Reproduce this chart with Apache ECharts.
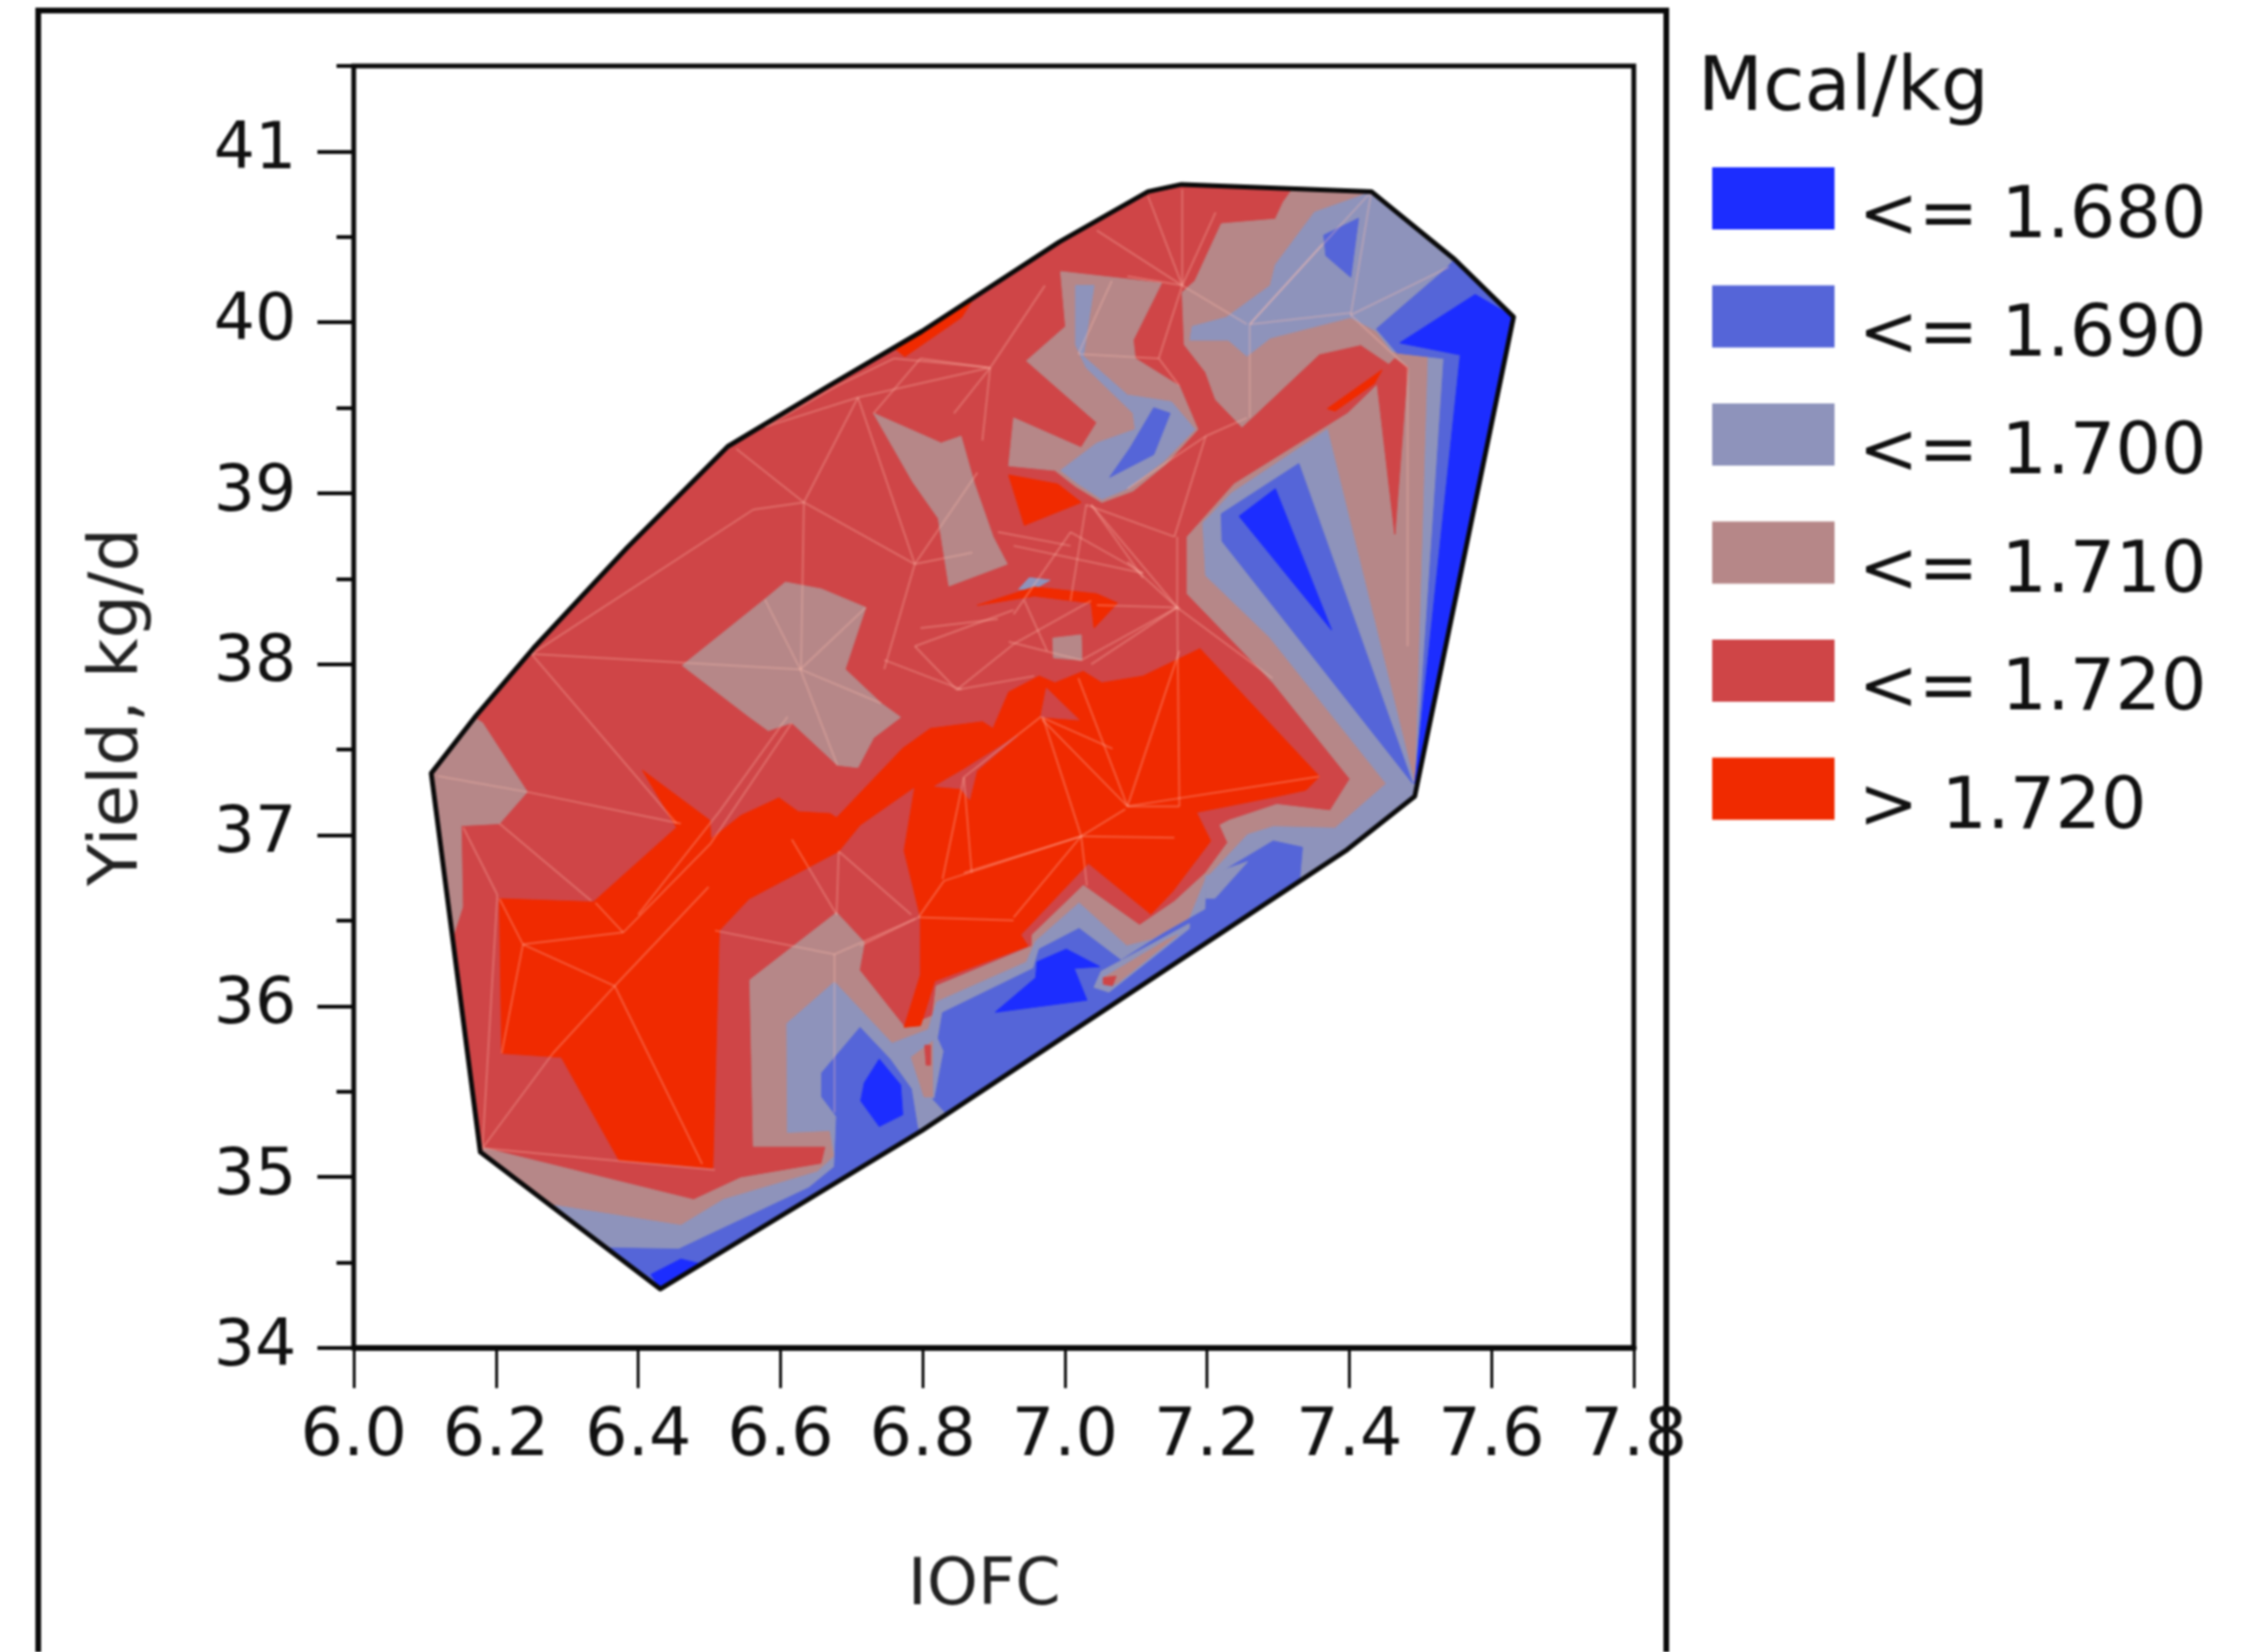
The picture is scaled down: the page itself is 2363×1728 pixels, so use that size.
<!DOCTYPE html>
<html>
<head>
<meta charset="utf-8">
<style>html,body{margin:0;padding:0;background:#fff}#c{width:2363px;height:1728px;filter:blur(0.8px)}</style>
<script src="https://cdn.jsdelivr.net/npm/echarts@6/dist/echarts.min.js"></script>
</head>
<body>
<div id="c"></div>
<script>
const yTicks = [34,35,36,37,38,39,40,41];
const legendTitle = 'Mcal/kg';
const levelNames = ['<= 1.680','<= 1.690','<= 1.700','<= 1.710','<= 1.720','> 1.720'];
const levelColors = ['#1c2dff','#5565d8','#8e93bb','#b68788','#cf4547','#f02a00'];

const hull = [[6.109,37.362],[6.178,35.146],[6.431,34.345],[6.799,35.272],[7.397,36.915],[7.492,37.227],[7.631,40.032],[7.548,40.369],[7.431,40.765],[7.164,40.807],[7.117,40.765],[6.992,40.470],[6.799,39.948],[6.668,39.628],[6.526,39.274],[6.385,38.684],[6.253,38.095],[6.172,37.699]];

const level1710 = [
 [[7.307,40.703],[7.322,40.791],[7.431,40.765],[7.548,40.369],[7.631,40.032],[7.492,37.227],[7.397,36.915],[6.799,35.272],[6.431,34.345],[6.178,35.146],[6.184,35.169],[6.478,34.867],[6.544,34.995],[6.658,35.076],[6.664,35.180],[6.562,35.180],[6.557,36.153],[6.679,36.547],[6.718,36.373],[6.711,36.211],[6.775,35.875],[6.814,35.944],[6.819,36.118],[6.954,36.352],[6.954,36.417],[7.026,36.706],[7.105,36.473],[7.154,36.612],[7.198,36.780],[7.229,36.957],[7.218,37.059],[7.231,37.087],[7.298,37.180],[7.373,37.143],[7.401,37.329],[7.293,37.890],[7.172,38.412],[7.172,38.746],[7.238,39.054],[7.398,39.468],[7.464,39.735],[7.416,39.869],[7.358,39.815],[7.249,39.388],[7.212,39.548],[7.198,39.708],[7.168,39.869],[7.165,40.176],[7.183,40.243],[7.220,40.577],[7.296,40.604]],
 [[6.994,40.297],[7.136,40.230],[7.096,39.896],[7.099,39.789],[7.161,39.628],[7.187,39.374],[7.143,39.174],[7.096,39.014],[7.052,38.947],[7.015,39.040],[6.986,39.134],[6.921,39.161],[6.928,39.441],[7.023,39.267],[7.045,39.414],[6.946,39.775],[7.001,39.976]],
 [[6.731,39.468],[6.826,39.294],[6.854,39.334],[6.873,39.054],[6.899,38.746],[6.919,38.586],[6.837,38.458],[6.822,38.853],[6.786,39.067]],
 [[6.462,37.993],[6.578,38.380],[6.607,38.480],[6.658,38.440],[6.720,38.332],[6.691,37.971],[6.742,37.771],[6.769,37.690],[6.731,37.570],[6.709,37.396],[6.680,37.410],[6.616,37.658],[6.583,37.612],[6.556,37.693]],
 [[6.983,38.153],[7.023,38.172],[7.024,38.024],[6.984,38.038]],
 [[6.109,37.362],[6.172,37.680],[6.181,37.658],[6.244,37.253],[6.205,37.068],[6.151,37.056],[6.153,36.580],[6.139,36.400]]
];

const level1700 = [
 [[7.431,40.765],[7.548,40.369],[7.631,40.032],[7.492,37.227],[7.397,36.915],[6.799,35.272],[6.431,34.345],[6.275,34.839],[6.460,34.717],[6.520,34.868],[6.652,35.030],[6.676,35.122],[6.670,35.273],[6.610,35.261],[6.609,35.898],[6.676,36.141],[6.757,35.782],[6.808,35.863],[6.820,36.025],[6.946,36.257],[6.959,36.380],[7.020,36.603],[7.087,36.352],[7.123,36.389],[7.175,36.510],[7.198,36.743],[7.257,37.003],[7.293,37.050],[7.380,37.041],[7.452,37.301],[7.288,38.158],[7.198,38.519],[7.194,38.826],[7.234,39.000],[7.369,39.374],[7.493,37.276],[7.511,39.815],[7.460,39.829],[7.438,39.949],[7.402,40.029],[7.289,39.909],[7.256,39.802],[7.230,39.896],[7.176,39.896],[7.179,39.976],[7.227,40.029],[7.289,40.216],[7.296,40.337],[7.351,40.644],[7.427,40.756]],
 [[7.015,40.216],[7.041,40.216],[7.026,39.802],[7.088,39.575],[7.150,39.535],[7.183,39.374],[7.139,39.187],[7.088,39.027],[7.052,38.965],[7.019,39.054],[6.994,39.134],[7.045,39.294],[7.099,39.374],[7.096,39.468],[7.030,39.735],[7.015,39.869]],
 [[6.935,38.439],[6.950,38.506],[6.979,38.492],[6.957,38.439]]
];

const level1690 = [
 [[7.329,39.174],[7.220,38.880],[7.221,38.720],[7.489,37.303]],
 [[7.548,40.369],[7.631,40.032],[7.492,37.227],[7.533,39.789],[7.467,39.821],[7.438,39.962],[7.535,40.310]],
 [[6.355,34.586],[6.431,34.345],[6.799,35.272],[6.793,35.284],[6.784,35.516],[6.754,35.690],[6.712,35.875],[6.658,35.609],[6.658,35.470],[6.679,35.354],[6.676,35.060],[6.640,34.937],[6.457,34.578]],
 [[6.814,35.458],[6.835,35.363],[7.330,36.733],[7.334,36.929],[7.293,36.966],[7.226,36.799],[7.200,36.743],[7.198,36.566],[7.139,36.426],[7.079,36.268],[7.020,36.454],[6.964,36.333],[6.956,36.221],[6.828,35.961],[6.822,35.812],[6.830,35.737],[6.817,35.458]],
 [[7.125,39.500],[7.148,39.468],[7.125,39.227],[7.063,39.094],[7.092,39.267]],
 [[7.413,40.609],[7.402,40.264],[7.367,40.390],[7.364,40.510]]
];

const level1680 = [
 [[7.577,40.163],[7.631,40.032],[7.492,37.300],[7.556,39.810],[7.471,39.880]],
 [[7.296,39.027],[7.245,38.866],[7.375,38.200]],
 [[6.739,35.690],[6.769,35.539],[6.772,35.365],[6.739,35.296],[6.713,35.446],[6.718,35.551]],
 [[7.002,36.333],[7.049,36.231],[7.013,36.221],[7.031,36.035],[6.902,35.964],[6.959,36.166],[6.961,36.259]],
 [[6.418,34.430],[6.431,34.345],[6.490,34.490],[6.460,34.520]]
];

const streak1700 = [
 [[7.051,36.203],[7.175,36.482],[7.175,36.454],[7.062,36.082],[7.041,36.110]],
 [[7.198,36.761],[7.257,36.845],[7.211,36.631],[7.198,36.631]]
];
const streak1710 = [
 [[7.054,36.166],[7.144,36.389],[7.159,36.417],[7.072,36.128]],
 [[6.784,35.701],[6.814,35.794],[6.814,35.470],[6.802,35.470]]
];
const patches1720 = [
 [[7.438,39.682],[7.464,38.760],[7.482,39.735],[7.464,39.789]],
 [[6.803,35.771],[6.811,35.771],[6.811,35.655],[6.805,35.655]],
 [[7.054,36.166],[7.072,36.175],[7.067,36.119],[7.054,36.128]]
];

const over1720 = [
 [[6.205,36.628],[6.337,36.609],[6.454,37.045],[6.406,37.380],[6.501,37.086],[6.502,36.975],[6.544,37.114],[6.598,37.218],[6.625,37.137],[6.670,37.126],[6.679,37.102],[6.772,37.508],[6.811,37.624],[6.884,37.664],[6.899,37.624],[6.921,37.837],[6.964,37.931],[6.986,37.891],[7.026,37.958],[7.052,37.891],[7.110,37.931],[7.190,38.091],[7.358,37.343],[7.339,37.264],[7.298,37.227],[7.185,37.134],[7.205,36.966],[7.151,36.668],[7.121,36.538],[7.033,36.836],[6.938,36.417],[6.948,36.352],[6.817,36.147],[6.797,35.886],[6.774,35.877],[6.797,36.184],[6.797,36.519],[6.774,36.910],[6.789,37.283],[6.712,37.059],[6.682,36.906],[6.556,36.628],[6.514,36.442],[6.505,35.053],[6.373,35.099],[6.292,35.701],[6.208,35.724]],
 [[6.921,39.107],[6.990,39.054],[7.023,38.947],[6.943,38.813]],
 [[6.877,38.345],[6.957,38.452],[7.045,38.412],[7.074,38.358],[7.041,38.212],[7.037,38.358],[6.957,38.399]],
 [[6.760,39.850],[6.870,40.130],[6.855,40.030],[6.775,39.800]],
 [[7.369,39.495],[7.446,39.722],[7.435,39.642],[7.380,39.481]]
];

const stars1720 = [
 [[6.817,37.286],[6.858,37.385],[6.933,37.581],[6.876,37.376],[6.866,37.208],[6.853,37.273]],
 [[6.966,37.692],[6.974,37.860],[7.020,37.674]]
];

const meshLines = [
 [[6.250,38.060],[6.628,37.970]],[[6.250,38.060],[6.454,37.068]],[[6.538,39.260],[6.633,38.947]],[[6.562,38.905],[6.250,38.060]],
 [[6.633,38.947],[6.562,38.905]],[[6.633,38.947],[6.709,39.561]],[[6.633,38.947],[6.789,38.586]],[[6.633,38.947],[6.629,37.970]],
 [[6.709,39.561],[6.895,39.735]],[[6.709,39.561],[6.789,38.586]],[[6.709,39.561],[6.578,39.388]],[[6.895,39.735],[6.844,39.468]],
 [[6.895,39.735],[6.972,40.216]],[[6.895,39.735],[6.884,39.308]],[[6.895,39.735],[6.760,39.789]],
 [[7.165,40.216],[7.165,40.778]],[[7.165,40.216],[7.117,40.738]],[[7.165,40.216],[7.212,40.644]],[[7.165,40.216],[7.045,40.537]],[[7.165,40.216],[7.088,40.270]],[[7.165,40.216],[7.256,39.989]],
 [[7.260,39.989],[7.431,40.765]],[[7.260,39.989],[7.260,39.441]],[[7.260,39.989],[7.402,40.056]],[[7.260,39.989],[7.362,40.457]],
 [[7.402,40.043],[7.540,40.323]],[[7.402,40.043],[7.431,40.765]],[[7.402,40.043],[7.482,39.735]],
 [[7.158,38.332],[7.158,38.746]],[[7.158,38.332],[7.088,38.599]],[[7.158,38.332],[7.037,38.000]],[[7.158,38.332],[7.292,37.918]],[[7.158,38.332],[7.161,37.169]],
 [[7.088,37.169],[7.019,37.918]],[[7.088,37.169],[6.968,37.677]],[[7.088,37.169],[7.161,38.078]],[[7.088,37.169],[7.358,37.343]],[[7.088,37.169],[7.161,37.169]],
 [[7.023,36.994],[6.858,36.780]],[[7.023,36.994],[7.085,37.152]],[[7.023,36.994],[6.969,37.692]],[[7.023,36.994],[6.830,36.733]],[[7.023,36.994],[7.154,36.985]],[[7.023,36.994],[7.031,36.705]],[[7.023,36.994],[6.928,36.519]],
 [[6.966,37.692],[7.067,37.506]],[[6.966,37.692],[6.858,37.339]],[[6.858,37.339],[6.869,36.780]],[[6.858,37.339],[6.828,36.743]],
 [[6.794,36.519],[6.830,36.733]],[[6.794,36.519],[6.712,36.352]],[[6.794,36.519],[6.928,36.501]],
 [[6.367,36.118],[6.280,35.724]],[[6.367,36.118],[6.238,36.361]],[[6.367,36.118],[6.490,35.076]],[[6.367,36.118],[6.499,36.697]],
 [[6.379,36.431],[6.238,36.361]],[[6.379,36.431],[6.502,36.952]],[[6.379,36.431],[6.340,36.604]],
 [[6.238,36.361],[6.205,36.628]],[[6.238,36.361],[6.208,35.724]],[[6.280,35.724],[6.181,35.169]],[[6.154,37.045],[6.202,36.651]],[[6.202,36.651],[6.181,35.169]],
 [[6.205,37.068],[6.334,36.616]],[[6.244,37.253],[6.460,37.068]],[[6.118,37.346],[6.244,37.253]],[[6.181,35.169],[6.508,35.041]],
 [[6.502,36.952],[6.616,37.658]],[[6.514,37.137],[6.610,37.693]],[[6.514,37.137],[6.400,36.535]],[[6.616,36.975],[6.679,36.535]],
 [[6.682,36.906],[6.679,36.535]],[[6.682,36.906],[6.784,36.535]],[[6.508,36.442],[6.676,36.303]],[[6.790,36.512],[6.676,36.303]],[[6.676,36.303],[6.676,35.377]],
 [[6.789,38.105],[6.928,38.318]],[[6.789,38.105],[6.848,37.851]],[[6.848,37.851],[6.957,37.931]],[[6.848,37.851],[6.928,38.118]],[[6.928,38.118],[7.037,38.372]],
 [[6.928,38.292],[7.008,38.773]],[[7.008,38.773],[7.110,38.533]],[[7.037,38.933],[7.110,38.506]],[[7.037,38.933],[7.161,38.318]],
 [[6.789,38.586],[6.870,38.653]],[[6.789,38.586],[6.746,37.971]],[[6.789,38.586],[6.877,39.121]],[[6.628,37.970],[6.742,37.771]],[[6.628,37.970],[6.578,38.380]],[[6.628,37.970],[6.720,38.332]],[[6.628,37.970],[6.680,37.410]],
 [[7.030,38.933],[7.154,38.746]],[[6.928,38.693],[7.110,38.533]],[[6.906,38.773],[7.008,38.693]],[[7.030,38.933],[7.008,38.372]],[[6.921,38.132],[7.023,38.024]],
 [[6.797,38.212],[6.906,38.265]],[[6.746,38.025],[6.855,37.851]],[[6.943,38.372],[6.975,38.078]],[[7.158,38.332],[7.023,38.024]],[[7.045,38.345],[7.161,38.332]],
 [[6.797,39.789],[6.891,39.735]],[[6.731,39.468],[6.797,39.789]],[[6.680,39.628],[6.760,39.789]],[[6.578,39.388],[6.680,39.628]],[[7.019,39.815],[7.066,40.243]],
 [[7.019,39.815],[7.132,39.789]],[[7.132,39.789],[7.165,40.216]],[[7.132,39.789],[7.161,39.628]],[[7.256,39.441],[7.198,39.334]],[[7.198,39.334],[7.154,38.746]],
 [[7.198,39.334],[7.088,39.027]],[[7.482,39.735],[7.482,38.105]]
];

function polySeries(name, polys, color) {
  return {
    type: 'custom', name, coordinateSystem: 'cartesian2d', silent: true, animation: false, clip: false,
    itemStyle: {color},
    data: polys.map(p => p[0]),
    renderItem(params, api) {
      const pts = polys[params.dataIndex].map(p => api.coord(p));
      return {type: 'polygon', shape: {points: pts}, style: {fill: color, stroke: color, lineWidth: 1}};
    }
  };
}

const chart = echarts.init(document.getElementById('c'), null, {renderer: 'canvas'});
const FONT = 'DejaVu Sans';
const series = [
  polySeries(levelNames[4], [hull], levelColors[4]),
  polySeries(levelNames[3], level1710, levelColors[3]),
  polySeries(levelNames[2], level1700, levelColors[2]),
  polySeries(levelNames[1], level1690, levelColors[1]),
  polySeries(levelNames[0], level1680, levelColors[0]),
  polySeries(levelNames[2], streak1700, levelColors[2]),
  polySeries(levelNames[3], streak1710, levelColors[3]),
  polySeries(levelNames[4], patches1720, levelColors[4]),
  polySeries(levelNames[5], over1720, levelColors[5]),
  polySeries(levelNames[4], stars1720, levelColors[4]),
  {
    type: 'custom', name: 'mesh', coordinateSystem: 'cartesian2d', silent: true, animation: false,
    data: meshLines.map(s => s[0]),
    renderItem(params, api) {
      const s = meshLines[params.dataIndex], a = api.coord(s[0]), b = api.coord(s[1]);
      return {type: 'line', shape: {x1: a[0], y1: a[1], x2: b[0], y2: b[1]},
        style: {stroke: 'rgba(255,190,175,0.32)', lineWidth: 2}};
    }
  },
  {
    type: 'custom', name: 'outline', coordinateSystem: 'cartesian2d', silent: true, animation: false, clip: false,
    data: [hull[0]],
    renderItem(params, api) {
      return {type: 'polygon', shape: {points: hull.map(p => api.coord(p))},
        style: {fill: 'none', stroke: '#0a0a0a', lineWidth: 5, lineJoin: 'round'}};
    }
  }
];

chart.setOption({
  backgroundColor: '#fff',
  animation: false,
  title: {text: legendTitle, left: 1771, top: 50,
    textStyle: {fontFamily: FONT, fontSize: 79, fontWeight: 'normal', color: '#111'}},
  legend: {
    orient: 'vertical', left: 1786, top: 170, itemWidth: 128, itemHeight: 65, itemGap: 32,
    selectedMode: false, icon: 'rect',
    formatter: '{a|{name}}',
    textStyle: {fontFamily: FONT, fontSize: 75, color: '#111', padding: [0, 0, 0, 20],
      rich: {a: {fontFamily: FONT, fontSize: 75, color: '#111', padding: [43, 0, 0, 0]}}},
    data: levelNames.map((n, i) => ({name: n, itemStyle: {color: levelColors[i]}}))
  },
  grid: {left: 370, top: 69, width: 1339, height: 1341, show: true, borderColor: '#0a0a0a', borderWidth: 5, backgroundColor: '#fff'},
  xAxis: {
    type: 'value', min: 6, max: 7.8, interval: 0.2,
    name: 'IOFC', nameLocation: 'middle', nameGap: 216,
    nameTextStyle: {fontFamily: FONT, fontSize: 68, color: '#222', padding: [0, 20, 0, 0]},
    axisLine: {show: true, onZero: false, lineStyle: {color: '#0a0a0a', width: 6}},
    axisTick: {show: true, length: 42, lineStyle: {color: '#0a0a0a', width: 3}},
    axisLabel: {fontFamily: FONT, fontSize: 70, color: '#111', margin: 59, hideOverlap: false, formatter: v => v.toFixed(1)},
    splitLine: {show: false}
  },
  yAxis: [{
    type: 'value', min: 34, max: 41.5, interval: 0.5, position: 'left',
    axisLine: {show: true, onZero: false, lineStyle: {color: '#0a0a0a', width: 4}},
    axisTick: {show: true, length: 18, lineStyle: {color: '#0a0a0a', width: 4}},
    axisLabel: {show: false},
    splitLine: {show: false}
  }, {
    type: 'value', min: 34, max: 41.5, interval: 0.5, position: 'left', offset: 0,
    name: 'Yield, kg/d', nameLocation: 'middle', nameGap: 210,
    nameTextStyle: {fontFamily: FONT, fontSize: 72, color: '#222'},
    axisLine: {show: true, onZero: false, lineStyle: {color: '#0a0a0a', width: 4}},
    axisTick: {show: true, length: 38, customValues: yTicks, lineStyle: {color: '#0a0a0a', width: 4}},
    axisLabel: {fontFamily: FONT, fontSize: 68, color: '#111', margin: 60, customValues: yTicks, padding: [9, 0, 0, 0]},
    splitLine: {show: false}
  }],
  graphic: [
    {type: 'polyline', silent: true, shape: {points: [[40, 1728], [40, 11], [1743, 11], [1743, 1728]]},
      style: {stroke: '#0a0a0a', fill: 'none', lineWidth: 6}}
  ],
  series
});
</script>
</body>
</html>
